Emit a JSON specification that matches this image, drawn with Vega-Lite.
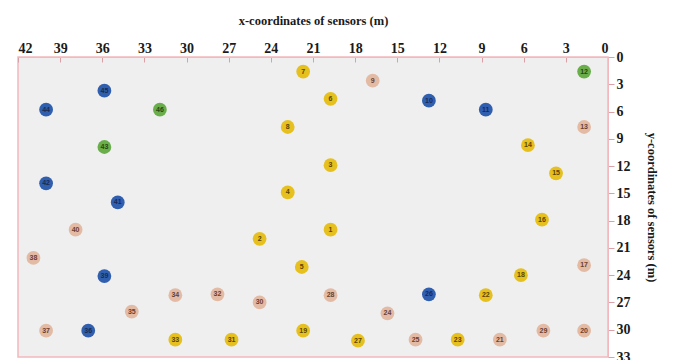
{
  "$schema": "https://vega.github.io/schema/vega-lite/v6.json",
  "autosize": {"type": "none"},
  "width": 590,
  "height": 300,
  "padding": {"left": 18, "top": 57, "right": 67, "bottom": 3},
  "background": "white",
  "config": {
    "view": {"fill": "#efefef", "stroke": "#f3b8bd", "strokeWidth": 1.5},
    "axis": {
      "labelFont": "Liberation Serif", "labelFontWeight": "bold", "labelFontSize": 14, "labelColor": "#1a1a1a",
      "titleFont": "Liberation Serif", "titleFontWeight": "bold", "titleFontSize": 12.5, "titleColor": "#1a1a1a",
      "domainColor": "#f3b8bd", "tickColor": "#d9a0a6", "grid": false
    }
  },
  "data": {"values": [
    {"id": 7, "x": 21.7, "y": 1.6, "type": "yellow"},
    {"id": 9, "x": 16.75, "y": 2.6, "type": "tan"},
    {"id": 12, "x": 1.7, "y": 1.6, "type": "green"},
    {"id": 45, "x": 35.85, "y": 3.7, "type": "blue"},
    {"id": 6, "x": 19.75, "y": 4.6, "type": "yellow"},
    {"id": 10, "x": 12.75, "y": 4.8, "type": "blue"},
    {"id": 44, "x": 40, "y": 5.8, "type": "blue"},
    {"id": 46, "x": 31.9, "y": 5.8, "type": "green"},
    {"id": 11, "x": 8.7, "y": 5.8, "type": "blue"},
    {"id": 8, "x": 22.8, "y": 7.7, "type": "yellow"},
    {"id": 13, "x": 1.7, "y": 7.7, "type": "tan"},
    {"id": 43, "x": 35.85, "y": 9.9, "type": "green"},
    {"id": 14, "x": 5.7, "y": 9.7, "type": "yellow"},
    {"id": 3, "x": 19.75, "y": 11.9, "type": "yellow"},
    {"id": 15, "x": 3.7, "y": 12.8, "type": "yellow"},
    {"id": 42, "x": 40, "y": 13.9, "type": "blue"},
    {"id": 4, "x": 22.8, "y": 14.9, "type": "yellow"},
    {"id": 41, "x": 34.9, "y": 16, "type": "blue"},
    {"id": 16, "x": 4.7, "y": 17.9, "type": "yellow"},
    {"id": 1, "x": 19.75, "y": 19, "type": "yellow"},
    {"id": 40, "x": 37.9, "y": 19, "type": "tan"},
    {"id": 2, "x": 24.8, "y": 20, "type": "yellow"},
    {"id": 38, "x": 40.9, "y": 22.1, "type": "tan"},
    {"id": 5, "x": 21.8, "y": 23.1, "type": "yellow"},
    {"id": 17, "x": 1.7, "y": 22.9, "type": "tan"},
    {"id": 18, "x": 6.2, "y": 24, "type": "yellow"},
    {"id": 39, "x": 35.85, "y": 24.1, "type": "blue"},
    {"id": 34, "x": 30.8, "y": 26.2, "type": "tan"},
    {"id": 32, "x": 27.8, "y": 26.1, "type": "tan"},
    {"id": 28, "x": 19.75, "y": 26.2, "type": "tan"},
    {"id": 26, "x": 12.75, "y": 26.1, "type": "blue"},
    {"id": 22, "x": 8.7, "y": 26.2, "type": "yellow"},
    {"id": 30, "x": 24.8, "y": 27, "type": "tan"},
    {"id": 35, "x": 33.9, "y": 28, "type": "tan"},
    {"id": 24, "x": 15.7, "y": 28.2, "type": "tan"},
    {"id": 37, "x": 40, "y": 30.1, "type": "tan"},
    {"id": 36, "x": 37, "y": 30.1, "type": "blue"},
    {"id": 19, "x": 21.7, "y": 30.1, "type": "yellow"},
    {"id": 29, "x": 4.6, "y": 30.1, "type": "tan"},
    {"id": 20, "x": 1.7, "y": 30.1, "type": "tan"},
    {"id": 33, "x": 30.8, "y": 31.1, "type": "yellow"},
    {"id": 31, "x": 26.8, "y": 31.1, "type": "yellow"},
    {"id": 27, "x": 17.8, "y": 31.2, "type": "yellow"},
    {"id": 25, "x": 13.7, "y": 31.1, "type": "tan"},
    {"id": 23, "x": 10.7, "y": 31.1, "type": "yellow"},
    {"id": 21, "x": 7.7, "y": 31.1, "type": "tan"}
  ]},
  "encoding": {
    "x": {"field": "x", "type": "quantitative",
      "scale": {"domain": [0, 42], "reverse": true, "nice": false, "zero": false},
      "axis": {"orient": "top", "values": [0,3,6,9,12,15,18,21,24,27,30,33,36,39,42], "title": "x-coordinates of sensors (m)", "titlePadding": 14, "tickSize": -5, "labelPadding": 7}},
    "y": {"field": "y", "type": "quantitative",
      "scale": {"domain": [0, 33], "reverse": true, "nice": false, "zero": false},
      "axis": {"orient": "right", "values": [0,3,6,9,12,15,18,21,24,27,30,33], "title": "y-coordinates of sensors (m)", "titlePadding": 14, "tickSize": 6}}
  },
  "layer": [
    {"mark": {"type": "circle", "size": 190, "opacity": 1},
      "encoding": {"color": {"field": "type", "type": "nominal",
        "scale": {"domain": ["blue", "green", "yellow", "tan"], "range": ["#2f5fae", "#69ae4a", "#e6c01e", "#e3bba5"]},
        "legend": null}}},
    {"mark": {"type": "text", "fontSize": 7, "fontWeight": "bold", "font": "Liberation Sans", "baseline": "middle", "align": "center"},
      "encoding": {"text": {"field": "id", "type": "nominal"},
        "color": {"field": "type", "type": "nominal",
          "scale": {"domain": ["blue", "green", "yellow", "tan"], "range": ["#1a2a55", "#234a15", "#5a4500", "#6b4030"]},
          "legend": null}}}
  ],
  "resolve": {"scale": {"color": "independent"}}
}
